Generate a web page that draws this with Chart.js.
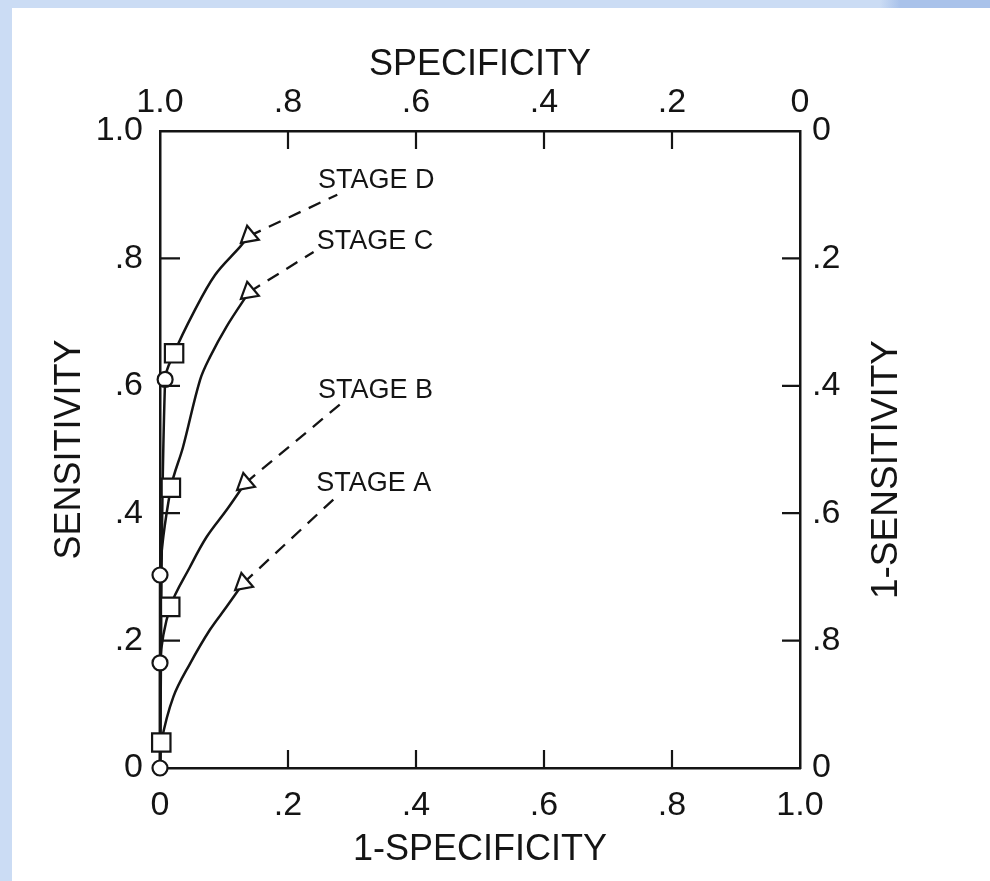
<!DOCTYPE html>
<html>
<head>
<meta charset="utf-8">
<script src="https://cdn.jsdelivr.net/npm/chart.js@4.4.1/dist/chart.umd.min.js"></script>
<style>
  html, body { margin: 0; padding: 0; }
  body {
    width: 990px; height: 881px; position: relative; overflow: hidden;
    background: linear-gradient(to right, #cbdcf4 0, #cbdcf4 880px, #a9c2ea 900px, #a9c2ea 990px);
  }
  .sheet { position: absolute; left: 12px; top: 8px; right: 0; bottom: 0; background: #fff; }
  #roc { position: absolute; left: 0; top: 0; }
</style>
</head>
<body>
<div class="sheet"></div>
<canvas id="roc" width="990" height="881"></canvas>
<script>
// ROC curves per stage: 1-specificity (x) vs sensitivity (y)
// marked points plus a few points
const stageNames = ['STAGE A', 'STAGE B', 'STAGE C', 'STAGE D'];

const stageA_fpr = [0, 0.002, 0.021, 0.047, 0.078, 0.104, 0.13];
const stageA_tpr = [0, 0.04, 0.112, 0.164, 0.217, 0.253, 0.29];
const stageB_fpr = [0, 0, 0.016, 0.047, 0.073, 0.104, 0.133];
const stageB_tpr = [0, 0.165, 0.253, 0.316, 0.363, 0.405, 0.447];
const stageC_fpr = [0, 0, 0.017, 0.036, 0.0625, 0.078, 0.104, 0.139];
const stageC_tpr = [0, 0.303, 0.44, 0.504, 0.609, 0.645, 0.693, 0.747];
const stageD_fpr = [0, 0.008, 0.022, 0.052, 0.086, 0.125, 0.139];
const stageD_tpr = [0, 0.61, 0.651, 0.714, 0.774, 0.818, 0.835];

// which point of each curve carries which marker
const circleAt = [0, 1, 1, 1];
const squareAt = [1, 2, 2, 2];

// dashed extensions (end points)
const dashEnd_fpr = [0.28, 0.29, 0.24, 0.277];
const dashEnd_tpr = [0.43, 0.578, 0.81, 0.9];

// tick labels, ascending value order
const bottomLabels = ['0', '.2', '.4', '.6', '.8', '1.0'];
const topLabels = ['0', '.2', '.4', '.6', '.8', '1.0'];
const leftLabels = ['0', '.2', '.4', '.6', '.8', '1.0'];
const rightLabels = ['0', '.2', '.4', '.6', '.8', '0'];

// where the stage names sit (data units)
const nameAt = [[0.244, 0.447], [0.247, 0.593], [0.245, 0.826], [0.247, 0.923]];

const ink = '#141414';
const fontFam = '"Liberation Sans", Arial, sans-serif';

const stageFpr = [stageA_fpr, stageB_fpr, stageC_fpr, stageD_fpr];
const stageTpr = [stageA_tpr, stageB_tpr, stageC_tpr, stageD_tpr];

function pts(xs, ys) {
    return xs.map((x, i) => ({ x: x, y: ys[i] }));
}

const datasets = [];
stageFpr.forEach((xs, s) => {
    const last = xs.length - 1;
    const styles = xs.map((_, i) => i === circleAt[s] ? 'circle' : i === squareAt[s] ? 'rect' : i === last ? 'triangle' : 'circle');
    const radii = xs.map((_, i) => i === circleAt[s] ? 7.5 : i === squareAt[s] ? 13 : i === last ? 10.5 : 0);
    datasets.push({
        label: stageNames[s],
        data: pts(xs, stageTpr[s]),
        borderColor: ink,
        borderWidth: 2.5,
        tension: 0.35,
        showLine: true,
        pointStyle: styles,
        pointRadius: radii,
        pointRotation: styles.map(p => p === 'triangle' ? -10 : 0),
        pointBackgroundColor: '#fff',
        pointBorderColor: ink,
        pointBorderWidth: 2.2,
        clip: false,
        order: 1
    });
});
stageFpr.forEach((xs, s) => {
    const last = xs.length - 1;
    datasets.push({
        label: stageNames[s] + ' ext',
        data: [{ x: xs[last], y: stageTpr[s][last] }, { x: dashEnd_fpr[s], y: dashEnd_tpr[s] }],
        borderColor: ink,
        borderWidth: 2.3,
        borderDash: [13, 9],
        showLine: true,
        pointRadius: 0,
        clip: false,
        order: 2
    });
});

// inward tick marks, right axis title, stage names
const extras = {
    id: 'extras',
    afterDraw(chart) {
        const ctx = chart.ctx;
        const { left, right, top, bottom } = chart.chartArea;
        const xs = chart.scales.x, ys = chart.scales.y;
        ctx.save();
        ctx.strokeStyle = ink;
        ctx.lineWidth = 2.2;
        xs.ticks.forEach(t => {
            if (t.value <= 0 || t.value >= 1) return;
            const px = xs.getPixelForValue(t.value);
            ctx.beginPath();
            ctx.moveTo(px, bottom); ctx.lineTo(px, bottom - 18);
            ctx.moveTo(px, top); ctx.lineTo(px, top + 18);
            ctx.stroke();
        });
        ys.ticks.forEach(t => {
            if (t.value <= 0 || t.value >= 1) return;
            const py = ys.getPixelForValue(t.value);
            ctx.beginPath();
            ctx.moveTo(left, py); ctx.lineTo(left + 20, py);
            ctx.moveTo(right, py); ctx.lineTo(right - 18, py);
            ctx.stroke();
        });

        ctx.fillStyle = ink;
        ctx.font = '27px ' + fontFam;
        ctx.textAlign = 'left';
        ctx.textBaseline = 'middle';
        nameAt.forEach((p, i) => {
            ctx.fillText(stageNames[i], xs.getPixelForValue(p[0]), ys.getPixelForValue(p[1]));
        });

        ctx.font = '37px ' + fontFam;
        ctx.textAlign = 'center';
        ctx.translate(887, (top + bottom) / 2 + 20);
        ctx.rotate(-Math.PI / 2);
        ctx.fillText('1-SENSITIVITY', 0, 0);
        ctx.restore();
    }
};

const tickFont = { family: fontFam, size: 34 };
const titleFont = { family: fontFam, size: 36 };

function axis(pos, labels, pad, extra) {
    return Object.assign({
        type: 'linear',
        position: pos,
        min: 0,
        max: 1,
        ticks: {
            stepSize: 0.2,
            autoSkip: false,
            maxRotation: 0,
            padding: pad,
            color: ink,
            font: tickFont,
            callback: v => labels[Math.round(v / 0.2)]
        },
        grid: { display: false, drawTicks: false },
        border: { display: true, color: ink, width: 2.5 }
    }, extra);
}

new Chart(document.getElementById('roc'), {
    type: 'scatter',
    data: { datasets: datasets },
    options: {
        responsive: false,
        animation: false,
        layout: { padding: 0 },
        plugins: { legend: { display: false }, tooltip: { enabled: false } },
        scales: {
            x: axis('bottom', bottomLabels, 17, {
                title: { display: true, text: '1-SPECIFICITY', color: ink, font: titleFont, padding: { top: 0, bottom: 9 } },
                afterFit: s => { s.height = 113; }
            }),
            x2: axis('top', topLabels, 8, {
                reverse: true,
                title: { display: true, text: 'SPECIFICITY', color: ink, font: titleFont, padding: { top: 43, bottom: 0 } },
                afterFit: s => { s.height = 131; }
            }),
            y: axis('left', leftLabels, 17, {
                title: { display: true, text: 'SENSITIVITY', color: ink, font: titleFont, padding: { top: 48, bottom: 0 } },
                afterFit: s => { s.width = 160; }
            }),
            y2: axis('right', rightLabels, 12, {
                reverse: true,
                afterFit: s => { s.width = 190; }
            })
        }
    },
    plugins: [extras]
});
</script>
</body>
</html>
